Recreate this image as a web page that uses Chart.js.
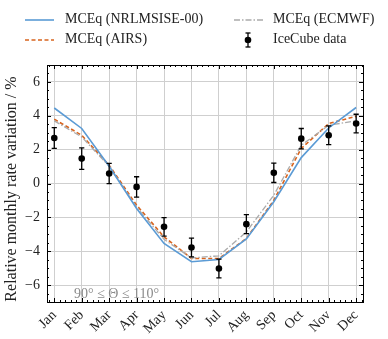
<!DOCTYPE html>
<html>
<head>
<meta charset="utf-8">
<script src="https://cdn.jsdelivr.net/npm/chart.js@4.4.0/dist/chart.umd.min.js"></script>
<style>
  html, body { margin: 0; padding: 0; background: #fff; }
  #wrap { position: relative; width: 388px; height: 339px; }
  #c { position: absolute; left: 0; top: 0; }
  .leg { position: absolute; font-family: "Liberation Serif", serif; font-size: 14px; color: #222; white-space: nowrap; line-height: 16px; }
  .sw { position: absolute; }
</style>
</head>
<body>
<div id="wrap">
  <canvas id="c" width="388" height="339"></canvas>
  <svg class="sw" style="left:24px;top:12px" width="32" height="16"><line x1="1" y1="8" x2="30" y2="8" stroke="#5b9bd5" stroke-width="1.6"/></svg>
  <div class="leg" style="left:65px;top:11px">MCEq (NRLMSISE-00)</div>
  <svg class="sw" style="left:24px;top:32px" width="32" height="16"><line x1="1" y1="8" x2="30" y2="8" stroke="#d8641e" stroke-width="1.6" stroke-dasharray="4,2.5"/></svg>
  <div class="leg" style="left:65px;top:31px">MCEq (AIRS)</div>
  <svg class="sw" style="left:233px;top:12px" width="32" height="16"><line x1="1" y1="8" x2="30" y2="8" stroke="#aaaaaa" stroke-width="1.3" stroke-dasharray="6,2,1.5,2"/></svg>
  <div class="leg" style="left:273px;top:11px">MCEq (ECMWF)</div>
  <svg class="sw" style="left:240px;top:31px" width="16" height="18"><line x1="8" y1="2" x2="8" y2="16" stroke="#000" stroke-width="1.3"/><line x1="5.5" y1="2" x2="10.5" y2="2" stroke="#000" stroke-width="1.3"/><line x1="5.5" y1="16" x2="10.5" y2="16" stroke="#000" stroke-width="1.3"/><circle cx="8" cy="9" r="3.3" fill="#000"/></svg>
  <div class="leg" style="left:273px;top:31px">IceCube data</div>
</div>
<script>
const months = ['Jan','Feb','Mar','Apr','May','Jun','Jul','Aug','Sep','Oct','Nov','Dec'];
const nrlmsise = [4.46, 3.25, 1.02, -1.48, -3.54, -4.62, -4.49, -3.27, -1.08, 1.53, 3.28, 4.49];
const airs     = [3.80, 2.85, 1.08, -1.28, -3.15, -4.43, -4.43, -3.25, -0.99, 2.07, 3.54, 3.97];
const ecmwf    = [3.70, 2.75, 1.02, -1.40, -3.30, -4.40, -4.27, -2.86, -0.69, 2.26, 3.44, 3.70];
const icecube    = [2.69, 1.47, 0.59, -0.20, -2.56, -3.78, -5.02, -2.40, 0.63, 2.65, 2.85, 3.54];
const icecubeErr = [0.61, 0.63, 0.60, 0.60, 0.55, 0.55, 0.55, 0.56, 0.57, 0.60, 0.55, 0.55];
const yTickValues = [-6, -4, -2, 0, 2, 4, 6];
const annotation = '90° ≤ Θ ≤ 110°';
const yTitle = 'Relative monthly rate variation / %';

const toXY = arr => arr.map((v, i) => ({x: i, y: v}));
const FONT = '"Liberation Serif", serif';

const frameAndTicks = {
  id: 'frameAndTicks',
  afterDatasetsDraw(chart) {
    const {ctx, chartArea: a, scales: {x, y}} = chart;
    ctx.save();
    // error bars
    ctx.strokeStyle = '#000';
    ctx.lineWidth = 1.3;
    icecube.forEach((v, i) => {
      const px = x.getPixelForValue(i);
      const y1 = y.getPixelForValue(v - icecubeErr[i]);
      const y2 = y.getPixelForValue(v + icecubeErr[i]);
      ctx.beginPath();
      ctx.moveTo(px, y1); ctx.lineTo(px, y2);
      ctx.moveTo(px - 2.6, y1); ctx.lineTo(px + 2.6, y1);
      ctx.moveTo(px - 2.6, y2); ctx.lineTo(px + 2.6, y2);
      ctx.stroke();
    });
    ctx.fillStyle = '#000';
    icecube.forEach((v, i) => {
      ctx.beginPath();
      ctx.arc(x.getPixelForValue(i), y.getPixelForValue(v), 3.3, 0, Math.PI * 2);
      ctx.fill();
    });
    // frame
    ctx.strokeStyle = '#000';
    ctx.lineWidth = 1;
    ctx.strokeRect(Math.round(a.left) + 0.5, Math.round(a.top) + 0.5, Math.round(a.right - a.left), Math.round(a.bottom - a.top));
    // ticks inside
    ctx.beginPath();
    for (let i = -1; i <= 11; i++) {
      for (let k = 0; k < 5; k++) {
        const v = i + k * 0.2;
        if (v < x.min || v > x.max) continue;
        const px = Math.round(x.getPixelForValue(v)) + 0.5;
        const len = k === 0 ? 4 : 2;
        ctx.moveTo(px, a.bottom); ctx.lineTo(px, a.bottom - len);
        ctx.moveTo(px, a.top); ctx.lineTo(px, a.top + len);
      }
    }
    for (let v = -7; v <= 7; v += 0.5) {
      const py = Math.round(y.getPixelForValue(v)) + 0.5;
      const len = (v % 2 === 0) ? 4 : 2;
      ctx.moveTo(a.left, py); ctx.lineTo(a.left + len, py);
      ctx.moveTo(a.right, py); ctx.lineTo(a.right - len, py);
    }
    ctx.stroke();
    // annotation
    ctx.fillStyle = '#8a8a8a';
    ctx.font = '14px ' + FONT;
    ctx.textAlign = 'left';
    ctx.textBaseline = 'alphabetic';
    ctx.fillText(annotation, x.getPixelForValue(0.72), a.bottom - 4);
    // y title
    ctx.fillStyle = '#222';
    ctx.font = '16px ' + FONT;
    ctx.translate(12, 189);
    ctx.rotate(-Math.PI / 2);
    ctx.textAlign = 'center';
    ctx.textBaseline = 'middle';
    ctx.fillText(yTitle, 0, 0);
    ctx.restore();
  }
};

new Chart(document.getElementById('c'), {
  type: 'line',
  data: {
    datasets: [
      {label: 'MCEq (NRLMSISE-00)', data: toXY(nrlmsise), borderColor: '#5b9bd5', borderWidth: 1.6, pointRadius: 0, fill: false, tension: 0},
      {label: 'MCEq (ECMWF)', data: toXY(ecmwf), borderColor: '#aaaaaa', borderWidth: 1.3, borderDash: [6, 2, 1.5, 2], pointRadius: 0, fill: false, tension: 0},
      {label: 'MCEq (AIRS)', data: toXY(airs), borderColor: '#d8641e', borderWidth: 1.6, borderDash: [4, 2.5], pointRadius: 0, fill: false, tension: 0}
    ]
  },
  options: {
    responsive: false,
    animation: false,
    devicePixelRatio: 1,
    layout: {padding: {top: 65, right: 25, left: 0, bottom: 0}},
    plugins: {legend: {display: false}, tooltip: {enabled: false}},
    scales: {
      x: {
        type: 'linear', min: -0.265, max: 11.25,
        afterBuildTicks: s => { s.ticks = months.map((m, i) => ({value: i})); },
        afterFit: s => { s.height = 37; },
        ticks: {
          autoSkip: false, maxRotation: 45, minRotation: 45, padding: 5,
          color: '#222', font: {family: FONT, size: 14},
          callback: v => months[v]
        },
        grid: {color: '#cfcfcf', lineWidth: 1, drawTicks: false},
        border: {display: false}
      },
      y: {
        type: 'linear', min: -7, max: 7,
        afterBuildTicks: s => { s.ticks = yTickValues.map(v => ({value: v})); },
        afterFit: s => { s.width = 47; },
        ticks: {
          padding: 7, color: '#222', font: {family: FONT, size: 14},
          callback: v => (v < 0 ? '\u2212' + Math.abs(v) : String(v))
        },
        grid: {color: '#cfcfcf', lineWidth: 1, drawTicks: false},
        border: {display: false}
      }
    }
  },
  plugins: [frameAndTicks]
});
</script>
</body>
</html>
